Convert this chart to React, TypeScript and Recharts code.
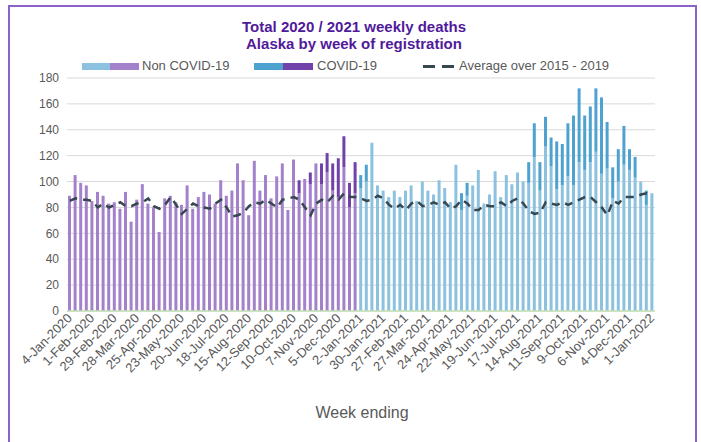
import React from "react";
import { ComposedChart, Bar, Line, XAxis, YAxis, CartesianGrid } from "recharts";

const weeks: string[] = [
  "4-Jan-2020","11-Jan-2020","18-Jan-2020","25-Jan-2020","1-Feb-2020","8-Feb-2020","15-Feb-2020","22-Feb-2020","29-Feb-2020",
  "7-Mar-2020","14-Mar-2020","21-Mar-2020","28-Mar-2020","4-Apr-2020","11-Apr-2020","18-Apr-2020","25-Apr-2020",
  "2-May-2020","9-May-2020","16-May-2020","23-May-2020","30-May-2020","6-Jun-2020","13-Jun-2020","20-Jun-2020","27-Jun-2020",
  "4-Jul-2020","11-Jul-2020","18-Jul-2020","25-Jul-2020","1-Aug-2020","8-Aug-2020","15-Aug-2020","22-Aug-2020","29-Aug-2020",
  "5-Sep-2020","12-Sep-2020","19-Sep-2020","26-Sep-2020","3-Oct-2020","10-Oct-2020","17-Oct-2020","24-Oct-2020","31-Oct-2020",
  "7-Nov-2020","14-Nov-2020","21-Nov-2020","28-Nov-2020","5-Dec-2020","12-Dec-2020","19-Dec-2020","26-Dec-2020","2-Jan-2021",
  "9-Jan-2021","16-Jan-2021","23-Jan-2021","30-Jan-2021","6-Feb-2021","13-Feb-2021","20-Feb-2021","27-Feb-2021",
  "6-Mar-2021","13-Mar-2021","20-Mar-2021","27-Mar-2021","3-Apr-2021","10-Apr-2021","17-Apr-2021","24-Apr-2021",
  "1-May-2021","8-May-2021","15-May-2021","22-May-2021","29-May-2021","5-Jun-2021","12-Jun-2021","19-Jun-2021","26-Jun-2021",
  "3-Jul-2021","10-Jul-2021","17-Jul-2021","24-Jul-2021","31-Jul-2021","7-Aug-2021","14-Aug-2021","21-Aug-2021","28-Aug-2021",
  "4-Sep-2021","11-Sep-2021","18-Sep-2021","25-Sep-2021","2-Oct-2021","9-Oct-2021","16-Oct-2021","23-Oct-2021","30-Oct-2021",
  "6-Nov-2021","13-Nov-2021","20-Nov-2021","27-Nov-2021","4-Dec-2021","11-Dec-2021","18-Dec-2021","25-Dec-2021","1-Jan-2022"
];

// weeks 4-Jan-2020 .. 26-Dec-2020 (52 bars, purple)
const nonCovid2020: number[] = [
  89,105,99,97,85,92,89,83,84,79,
  92,69,86,98,83,80,61,87,89,84,
  82,97,79,88,92,90,83,101,89,93,
  114,101,74,116,93,105,87,104,114,78,
  117,91,102,98,114,98,107,93,88,111,
  80,91
];
const covid2020: number[] = [
  0,0,0,0,0,0,0,0,0,0,
  0,0,0,0,0,0,0,0,0,0,
  0,0,0,0,0,0,0,0,0,0,
  0,0,0,0,0,0,0,0,0,0,
  0,10,0,9,0,16,15,21,30,24,
  19,24
];
// weeks 2-Jan-2021 .. 1-Jan-2022 (53 bars, blue)
const nonCovid2021: number[] = [
  95,100,130,97,93,88,93,88,93,97,
  85,100,93,90,101,95,84,113,78,89,
  97,109,83,90,108,88,105,98,107,100,
  99,119,93,127,112,94,97,104,97,115,
  109,115,123,106,110,87,100,113,109,103,
  100,82,91
];
const covid2021: number[] = [
  10,13,0,0,0,0,0,0,0,0,
  0,0,0,0,0,0,0,0,13,10,
  0,0,0,0,0,0,0,0,0,0,
  16,26,22,23,22,37,32,41,54,57,
  42,43,49,59,36,24,25,30,16,16,
  0,11,0
];
const average: number[] = [
  85,87,86,86,85,80,83,80,82,84,
  81,81,83,84,87,81,79,82,88,82,
  75,79,83,81,80,79,83,86,80,73,
  74,76,81,84,83,86,83,80,86,87,
  88,86,80,74,83,86,84,89,86,91,
  88,88,87,85,86,89,87,82,79,82,
  78,83,85,81,82,84,82,84,79,81,
  86,83,78,78,82,81,81,84,81,85,
  87,83,77,75,76,84,83,82,84,82,
  84,86,88,88,84,80,74,85,83,88,
  88,88,90,91,90
];
const yTicks: number[] = [0, 20, 40, 60, 80, 100, 120, 140, 160, 180];

const SPLIT = nonCovid2020.length;
const data = weeks.map((w, i) => ({
  week: w,
  nc20: i < SPLIT ? nonCovid2020[i] : 0,
  c20: i < SPLIT ? covid2020[i] : 0,
  nc21: i >= SPLIT ? nonCovid2021[i - SPLIT] : 0,
  c21: i >= SPLIT ? covid2021[i - SPLIT] : 0,
  avg: average[i],
}));

const FONT = "'Liberation Sans', Arial, sans-serif";
const TXT = "#595959";

const XTick = (props: any) => {
  const { x, y, payload } = props;
  return (
    <text
      x={0}
      y={0}
      transform={`translate(${x + 3},${y + 8}) rotate(-45)`}
      textAnchor="end"
      fontSize={13}
      fill={TXT}
      fontFamily={FONT}
    >
      {payload.value}
    </text>
  );
};

const Swatch = ({ left, width, color }: { left: number; width: number; color: string }) => (
  <div style={{ position: "absolute", left, top: 63, width, height: 7, background: color }} />
);

const LegendText = ({ left, children }: { left: number; children: React.ReactNode }) => (
  <div style={{ position: "absolute", left, top: 58, fontSize: 13, lineHeight: "16px", color: TXT, whiteSpace: "nowrap" }}>
    {children}
  </div>
);

export default function App() {
  return (
    <div style={{ position: "absolute", left: 0, top: 0, width: 701, height: 442, overflow: "hidden", background: "#fff", fontFamily: FONT }}>
      <div style={{ position: "absolute", left: 8, top: 5, width: 689, height: 470, boxSizing: "border-box", border: "2px solid #8c62c8" }} />
      <div style={{ position: "absolute", left: 354, top: 18, transform: "translateX(-50%)", textAlign: "center", whiteSpace: "nowrap", fontWeight: "bold", fontSize: 15, lineHeight: "17px", color: "#501a9b" }}>
        Total 2020 / 2021 weekly deaths
        <br />
        Alaska by week of registration
      </div>
      <Swatch left={82} width={28} color="#8cc2e0" />
      <Swatch left={110} width={29} color="#a381cb" />
      <LegendText left={142}>Non COVID-19</LegendText>
      <Swatch left={254} width={29} color="#4ea2d0" />
      <Swatch left={283} width={30} color="#7142a9" />
      <LegendText left={317}>COVID-19</LegendText>
      <div style={{ position: "absolute", left: 423, top: 65, width: 12, height: 3, background: "#37474f" }} />
      <div style={{ position: "absolute", left: 442, top: 65, width: 12, height: 3, background: "#37474f" }} />
      <LegendText left={459}>Average over 2015 - 2019</LegendText>
      <div style={{ position: "absolute", left: 0, top: 0 }}>
        <ComposedChart
          width={701}
          height={442}
          data={data}
          margin={{ top: 78, right: 46, bottom: 31, left: 37 }}
          barSize={3}
        >
          <CartesianGrid vertical={false} stroke="#d9d9d9" strokeWidth={1} />
          <XAxis
            dataKey="week"
            interval={3}
            tickLine={false}
            tickSize={0}
            tickMargin={0}
            height={100}
            axisLine={{ stroke: "#c5e0b4", strokeWidth: 1.5 }}
            tick={<XTick />}
          />
          <YAxis
            width={30}
            domain={[0, 180]}
            ticks={yTicks}
            axisLine={false}
            tickLine={false}
            tick={{ fontSize: 12, fill: TXT, fontFamily: FONT }}
          />
          <Bar dataKey="nc20" stackId="a" fill="#a381cb" isAnimationActive={false} />
          <Bar dataKey="c20" stackId="a" fill="#7142a9" isAnimationActive={false} />
          <Bar dataKey="nc21" stackId="a" fill="#8cc2e0" isAnimationActive={false} />
          <Bar dataKey="c21" stackId="a" fill="#4ea2d0" isAnimationActive={false} />
          <Line
            dataKey="avg"
            type="linear"
            stroke="#37474f"
            strokeWidth={2.5}
            strokeDasharray="8 6"
            dot={false}
            activeDot={false}
            isAnimationActive={false}
          />
        </ComposedChart>
      </div>
      <div style={{ position: "absolute", left: 362, top: 404, transform: "translateX(-50%)", fontSize: 16, color: TXT, whiteSpace: "nowrap" }}>
        Week ending
      </div>
    </div>
  );
}
